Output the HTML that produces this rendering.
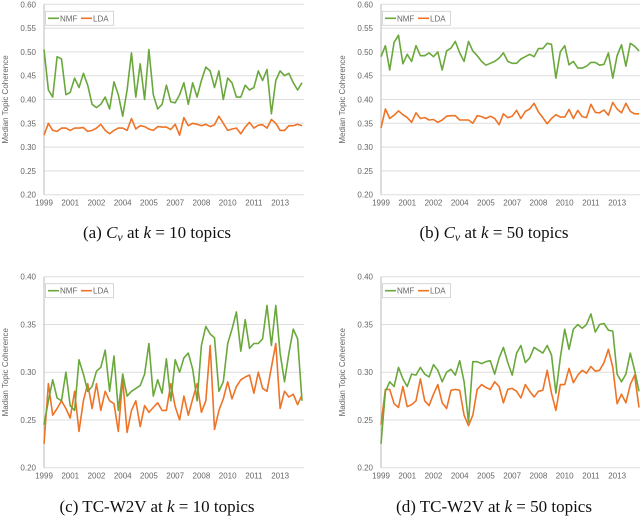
<!DOCTYPE html>
<html><head><meta charset="utf-8"><style>
html,body{margin:0;padding:0;background:#fff;width:640px;height:516px;overflow:hidden}
svg{display:block}
.cap{font-family:"Liberation Serif",serif;font-size:17px;fill:#111}
.tk{font-family:"Liberation Sans",sans-serif;font-size:8px;fill:#666}
</style></head><body>
<svg id="fig" width="640" height="516" viewBox="0 0 640 516"></svg>
<script>
const xLabels = ["1999","2001","2002","2004","2005","2007","2008","2010","2011","2013"];
const ticksA = ["0.20","0.25","0.30","0.35","0.40","0.45","0.50","0.55","0.60"];
const ticksC = ["0.20","0.25","0.30","0.35","0.40"];
const nmfA = [.505,.42,.405,.49,.485,.41,.415,.445,.425,.455,.43,.39,.383,.39,.405,.38,.437,.41,.365,.42,.498,.405,.475,.4,.505,.41,.38,.39,.43,.395,.393,.41,.435,.39,.435,.405,.44,.468,.46,.425,.46,.4,.445,.435,.405,.405,.43,.42,.425,.46,.44,.463,.37,.44,.46,.45,.455,.435,.42,.435];
const ldaA = [.325,.35,.335,.333,.34,.34,.335,.34,.34,.341,.333,.335,.34,.348,.335,.328,.335,.34,.34,.335,.36,.338,.345,.343,.338,.335,.343,.342,.342,.337,.348,.325,.362,.345,.35,.348,.345,.348,.343,.347,.365,.35,.335,.338,.34,.328,.342,.352,.34,.346,.347,.34,.358,.35,.335,.335,.345,.345,.348,.345];
const nmfB = [.49,.513,.462,.52,.535,.475,.495,.48,.513,.492,.492,.498,.49,.5,.462,.502,.508,.522,.498,.48,.522,.502,.492,.48,.472,.476,.48,.487,.498,.48,.476,.476,.485,.49,.495,.49,.507,.507,.518,.516,.445,.5,.513,.473,.48,.466,.466,.47,.478,.478,.472,.474,.498,.445,.492,.515,.47,.518,.512,.502];
const ldaB = [.34,.38,.36,.367,.376,.368,.362,.352,.372,.36,.362,.357,.358,.352,.357,.365,.366,.366,.357,.357,.357,.35,.366,.364,.36,.365,.36,.347,.37,.362,.365,.377,.36,.375,.38,.392,.374,.362,.349,.36,.368,.363,.363,.379,.36,.377,.364,.362,.39,.373,.372,.378,.367,.394,.38,.372,.392,.375,.37,.37];
const nmfC = [.245,.27,.292,.273,.27,.3,.265,.26,.313,.298,.28,.285,.301,.305,.323,.28,.317,.26,.298,.275,.28,.283,.286,.298,.33,.275,.292,.278,.314,.27,.313,.3,.315,.32,.303,.27,.328,.348,.34,.336,.28,.29,.33,.345,.363,.322,.355,.325,.33,.33,.335,.37,.328,.37,.32,.29,.32,.345,.335,.27];
const ldaC = [.225,.288,.255,.262,.27,.262,.252,.28,.238,.27,.288,.262,.288,.26,.28,.27,.267,.238,.293,.237,.26,.27,.243,.265,.258,.263,.268,.26,.26,.288,.264,.25,.275,.255,.272,.288,.258,.27,.328,.24,.26,.272,.29,.272,.285,.292,.295,.297,.278,.3,.283,.28,.305,.33,.262,.28,.274,.277,.266,.276];
const nmfD = [.225,.28,.29,.285,.305,.293,.285,.298,.297,.305,.298,.295,.308,.302,.29,.3,.303,.297,.312,.29,.248,.311,.311,.309,.311,.312,.298,.315,.326,.31,.297,.32,.328,.31,.315,.326,.323,.32,.328,.318,.278,.315,.345,.324,.345,.35,.346,.35,.361,.342,.35,.351,.344,.343,.298,.29,.298,.32,.302,.28];
const ldaD = [.245,.282,.282,.267,.263,.285,.264,.266,.27,.293,.27,.265,.277,.287,.268,.262,.281,.282,.281,.255,.244,.255,.282,.287,.284,.282,.29,.285,.268,.282,.283,.28,.273,.287,.28,.274,.28,.281,.302,.278,.26,.287,.287,.304,.289,.297,.302,.299,.306,.301,.302,.31,.324,.305,.267,.277,.268,.287,.297,.263];

const NS="http://www.w3.org/2000/svg";
const svg=document.getElementById('fig');
function mk(tag,attrs,parent,text){const e=document.createElementNS(NS,tag);for(const k in attrs)e.setAttribute(k,attrs[k]);if(text!==undefined)e.textContent=text;(parent||svg).appendChild(e);return e;}

function panel(id,x0,yTop,yBot,ticks,nmf,lda,ytitle,capParts,capY){
  const g=mk('g',{});
  
  
  const w=258, vmin=parseFloat(ticks[0]), vmax=parseFloat(ticks[ticks.length-1]);
  const xs=i=>x0+i*w/(nmf.length-1);
  const ys=v=>yBot-(v-vmin)/(vmax-vmin)*(yBot-yTop);
  ticks.forEach(t=>{
    const v=parseFloat(t);
    const l=mk('line',{x1:x0,x2:x0+w+2,y1:ys(v),y2:ys(v),stroke:'#dedede','stroke-width':1},g);
    
    
    const tx=mk('text',{x:x0-8,y:ys(v)+3,'text-anchor':'end',class:'tk'},g,t);
    
    
  });
  const ax=mk('line',{x1:x0,x2:x0,y1:yTop,y2:yBot,stroke:'#bbb','stroke-width':1},g);
  
  
  xLabels.forEach((lab,k)=>{
    const tx=mk('text',{x:xs(k*6),y:yBot+11,'text-anchor':'middle',class:'tk'},g,lab);
    
    
  });
  const yt=mk('text',{x:0,y:0,transform:`translate(${x0-36},${(yTop+yBot)/2}) rotate(-90)`,'text-anchor':'middle',class:'tk','font-size':'8.5'},g,ytitle);
  
  
  [[lda,'#ee7326','lda'],[nmf,'#6aa83c','nmf']].forEach(([arr,col,nm])=>{
    const p=mk('polyline',{points:arr.map((v,i)=>xs(i).toFixed(1)+','+ys(v).toFixed(1)).join(' '),fill:'none',stroke:col,'stroke-width':1.6,'stroke-linejoin':'round'},g);
    
    
  });
  const lg=mk('g',{},g);
  
  
  const ly=yTop+7;
  mk('rect',{x:x0+1.5,y:ly,width:68,height:14,fill:'#fff',stroke:'#ccc','stroke-width':0.8},lg);
  mk('line',{x1:x0+4,x2:x0+15,y1:ly+7,y2:ly+7,stroke:'#6aa83c','stroke-width':1.6},lg);
  mk('text',{x:x0+16,y:ly+10,class:'tk','font-size':'9'},lg,'NMF');
  mk('line',{x1:x0+37,x2:x0+48,y1:ly+7,y2:ly+7,stroke:'#ee7326','stroke-width':1.6},lg);
  mk('text',{x:x0+49,y:ly+10,class:'tk','font-size':'9'},lg,'LDA');
  const c=mk('text',{x:x0+113,y:capY,'text-anchor':'middle',class:'cap'},g);
  
  
  capParts.forEach(([t,it])=>{
    let a={};
    if(it===1)a={'font-style':'italic'};
    if(it===2)a={'font-style':'italic','font-size':'12','baseline-shift':'-3'};
    mk('tspan',a,c,t);
  });
}
panel('a',44,4.3,194.7,ticksA,nmfA,ldaA,'Median Topic Coherence',[['(a) ',0],['C',1],['v',2],[' at ',0],['k',1],[' = 10 topics',0]],238);
panel('b',381,4.3,194.7,ticksA,nmfB,ldaB,'Median Topic Coherence',[['(b) ',0],['C',1],['v',2],[' at ',0],['k',1],[' = 50 topics',0]],238);
panel('c',44,276.7,467.7,ticksC,nmfC,ldaC,'Madian Topic Coherence',[['(c) TC-W2V at ',0],['k',1],[' = 10 topics',0]],512);
panel('d',381,276.7,467.7,ticksC,nmfD,ldaD,'Madian Topic Coherence',[['(d) TC-W2V at ',0],['k',1],[' = 50 topics',0]],512);
</script>
</body></html>
